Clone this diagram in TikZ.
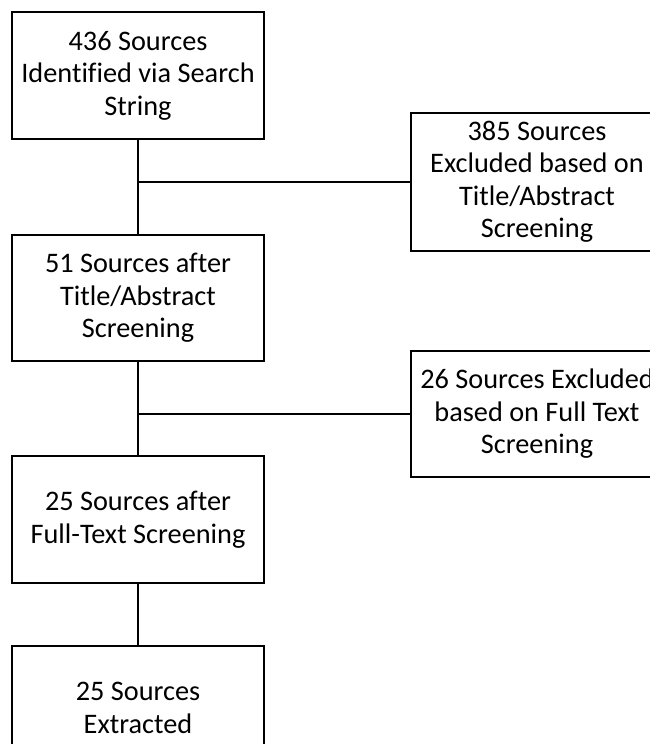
\documentclass[tikz,border=0pt]{standalone}
\usepackage{fontspec}
\setmainfont{Carlito}[Ligatures={NoCommon}]
\begin{document}
\begin{tikzpicture}[x=1pt,y=-1pt,
  box/.style={draw=black,line width=1.2pt,rectangle,minimum width=252pt,align=center,inner sep=0pt,
    font=\fontsize{28.3}{32.5}\selectfont,execute at begin node={\rule{0pt}{26pt}}},
  link/.style={draw=black,line width=1.2pt}]
\useasboundingbox (0,0) rectangle (650,744);
\clip (0,0) rectangle (650,744);
\node[box,minimum height=127pt] (b1) at (138,75.5) {436 Sources\\Identified via Search\\String};
\node[box,minimum height=138pt] (b2) at (537,182) {385 Sources\\Excluded based on\\Title/Abstract\\Screening};
\node[box,minimum height=126pt] (b3) at (138,298) {51 Sources after\\Title/Abstract\\Screening};
\node[box,minimum height=126pt] (b4) at (537,414) {26 Sources Excluded\\based on Full Text\\Screening};
\node[box,minimum height=127pt] (b5) at (138,519.5) {25 Sources after\\Full-Text Screening};
\node[box,minimum height=124pt] (b6) at (138,708) {25 Sources\\Extracted};
\coordinate (j1) at (b1.south |- b2.west);
\coordinate (j2) at (b3.south |- b4.west);
\draw[link] (b1.south) -- (b3.north);
\draw[link] (j1) -- (b2.west);
\draw[link] (b3.south) -- (b5.north);
\draw[link] (j2) -- (b4.west);
\draw[link] (b5.south) -- (b6.north);
\end{tikzpicture}
\end{document}
